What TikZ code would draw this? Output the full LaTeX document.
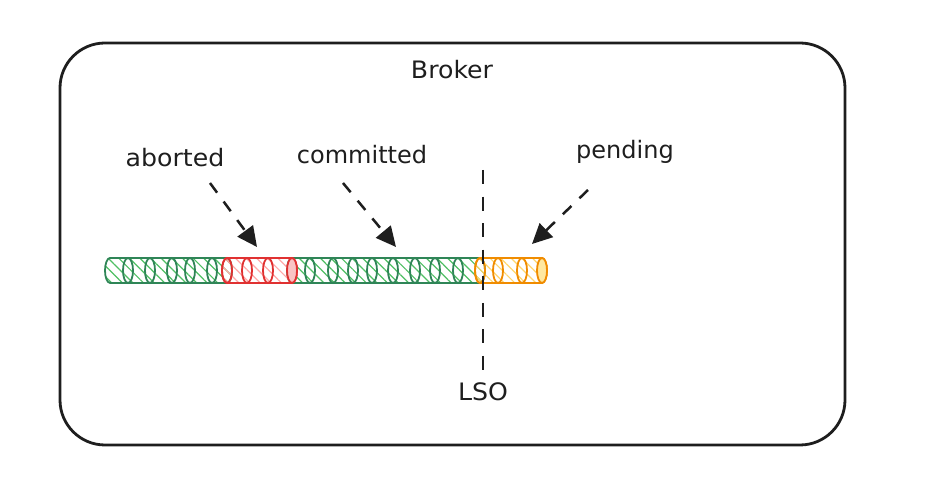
\documentclass[tikz,border=0pt]{standalone}
\usepackage{fontspec}
\setmainfont{DejaVu Sans}
\usetikzlibrary{arrows.meta,patterns.meta}
\definecolor{ink}{HTML}{1E1E1E}
\definecolor{gstroke}{HTML}{2F8557}
\definecolor{ghatch}{HTML}{4FBF63}
\definecolor{rstroke}{HTML}{E03131}
\definecolor{rhatch}{HTML}{FFA8A8}
\definecolor{rfill}{HTML}{F9C4C4}
\definecolor{ostroke}{HTML}{F08C00}
\definecolor{ohatch}{HTML}{FFD66E}
\definecolor{ofill}{HTML}{FFE8A0}
\newcommand\logbody[4]{%
  \draw[draw=#3, line width=1.8pt, pattern={Lines[angle=-45,distance=7.5pt,line width=1.2pt]}, pattern color=#4]
    (#1,242) -- (#2,242) arc[start angle=90,end angle=-90,x radius=5,y radius=12.5]
    -- (#1,217) arc[start angle=270,end angle=90,x radius=5,y radius=12.5] -- cycle;}
\newcommand\logring[2]{%
  \draw[draw=#2, line width=1.8pt] (#1,229.5) ellipse[x radius=5,y radius=12.5];}
\begin{document}
\begin{tikzpicture}[x=1pt,y=1pt,
  hw/.style={font=\fontsize{24}{26}\selectfont, text=ink, inner sep=0pt},
  dasharrow/.style={draw=ink, line width=2.5pt, dash pattern=on 12pt off 11pt, -{Triangle[length=20pt,width=19pt]}},
  lsoline/.style={draw=ink, line width=2.5pt, dash pattern=on 14pt off 12.57pt},
  brokerbox/.style={draw=ink, line width=2.8pt, rounded corners=45pt, minimum width=785pt, minimum height=402pt, inner sep=0pt}]
\useasboundingbox (0,0) rectangle (932,500);
\node[brokerbox] (broker) at (452.5,256) {};
\node[hw] (brokerlabel) at (452,430) {\scalebox{1.05}[1]{Broker}};
% log segments
\logbody{110}{227}{gstroke}{ghatch}
\foreach \x in {128,150,172,190,212} {\logring{\x}{gstroke}}
\logbody{292}{480}{gstroke}{ghatch}
\foreach \x in {310,333,353,372,393,415,435,458} {\logring{\x}{gstroke}}
\logbody{227}{292}{rstroke}{rhatch}
\foreach \x in {227,247,268} {\logring{\x}{rstroke}}
\draw[draw=rstroke, fill=rfill, line width=1.8pt] (292,229.5) ellipse[x radius=5,y radius=12.5];
\logbody{480}{542}{ostroke}{ohatch}
\foreach \x in {480,498,522} {\logring{\x}{ostroke}}
\draw[draw=ostroke, fill=ofill, line width=1.8pt] (542,229.5) ellipse[x radius=5,y radius=12.5];
% LSO
\coordinate (lsotop) at (483,330);
\coordinate (lsobot) at (483,130);
\node[hw] (lso) at (483,108) {\scalebox{1.05}[1]{LSO}};
\draw[lsoline] (lsotop) -- (lsobot);
% labels and arrows
\node[hw] (aborted) at (175,342) {\scalebox{1.05}[1]{aborted}};
\node[hw] (committed) at (362,345) {\scalebox{1.0}[1]{committed}};
\node[hw] (pending) at (625,348) {\scalebox{1.0}[1]{pending}};
\coordinate (abs) at (210,317);
\coordinate (abe) at (257,253);
\coordinate (cos) at (343,317);
\coordinate (coe) at (396,253);
\coordinate (pes) at (588,310);
\coordinate (pee) at (532,256);
\draw[dasharrow] (abs) -- (abe);
\draw[dasharrow] (cos) -- (coe);
\draw[dasharrow] (pes) -- (pee);
\end{tikzpicture}
\end{document}
